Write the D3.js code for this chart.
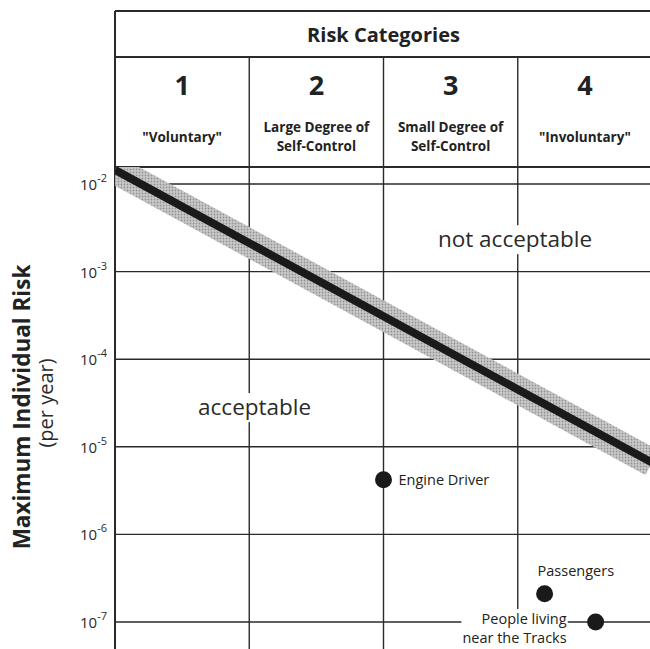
<!DOCTYPE html>
<html>
<head>
<meta charset="utf-8">
<script src="https://cdn.jsdelivr.net/npm/d3@7"></script>
<style>
  html, body { margin: 0; padding: 0; background: #fff; }
  svg { display: block; font-family: "Open Sans", sans-serif; }
</style>
</head>
<body>
<div id="chart"></div>
<script>
// Risk categories (columns)
const categories = ["1", "2", "3", "4"];
const categoryLabels = [
  ['"Voluntary"'],
  ["Large Degree of", "Self-Control"],
  ["Small Degree of", "Self-Control"],
  ['"Involuntary"']
];

// y ticks (per year)
const riskTicks = [1e-2, 1e-3, 1e-4, 1e-5, 1e-6, 1e-7];
const riskExponents = ["-2", "-3", "-4", "-5", "-6", "-7"];

// acceptability limit line
const limitX = [0, 4];
const limitRisk = [1.45e-2, 6.6e-6];

// individual points
const pointNames = ["Engine Driver", "Passengers", "People living|near the Tracks"];
const pointX = [2.0, 3.2, 3.58];
const pointRisk = [4.2e-6, 2.1e-7, 1.0e-7];

// zone labels
const zoneNames = ["not acceptable", "acceptable"];
const zoneX = [2.98, 1.04];
const zoneRisk = [1.9e-3, 2.3e-5];

const width = 650, height = 649;
const frame = { left: 115, right: 652, top: 11, row: 57, header: 167, bottom: 652 };

const svg = d3.select("#chart")
  .append("svg")
  .attr("width", width)
  .attr("height", height);

const x = d3.scaleLinear().domain([0, 4]).range([frame.left, frame.right]);
const y = d3.scaleLog().domain([1e-7, 1e-2]).range([622, 184]);

const ink = "#2a2a2a";

// halftone pattern for the grey band
const defs = svg.append("defs");
const pat = defs.append("pattern")
  .attr("id", "halftone")
  .attr("patternUnits", "userSpaceOnUse")
  .attr("width", 3).attr("height", 3);
pat.append("rect").attr("width", 3).attr("height", 3).attr("fill", "#cbcbcb");
pat.append("circle").attr("cx", 1.5).attr("cy", 1.5).attr("r", 0.9).attr("fill", "#929292");

defs.append("clipPath").attr("id", "plotClip")
  .append("rect")
  .attr("x", frame.left).attr("y", frame.header)
  .attr("width", frame.right - frame.left).attr("height", frame.bottom - frame.header);

// horizontal grid lines
svg.append("g")
  .selectAll("line")
  .data(riskTicks)
  .join("line")
  .attr("x1", frame.left).attr("x2", frame.right)
  .attr("y1", d => y(d)).attr("y2", d => y(d))
  .attr("stroke", ink).attr("stroke-width", 1.4);

// column dividers
svg.append("g")
  .selectAll("line")
  .data(d3.range(1, categories.length))
  .join("line")
  .attr("x1", d => x(d)).attr("x2", d => x(d))
  .attr("y1", frame.row).attr("y2", frame.bottom)
  .attr("stroke", ink).attr("stroke-width", 1.4);

// header frame lines
[frame.top, frame.row, frame.header].forEach(yy => {
  svg.append("line")
    .attr("x1", frame.left).attr("x2", frame.right)
    .attr("y1", yy).attr("y2", yy)
    .attr("stroke", ink).attr("stroke-width", 2);
});
svg.append("line")
  .attr("x1", frame.left).attr("x2", frame.left)
  .attr("y1", frame.top).attr("y2", frame.bottom)
  .attr("stroke", ink).attr("stroke-width", 2);

// limit band + line
const line = d3.line()
  .x(d => x(d[0]))
  .y(d => y(d[1]));
const limitData = limitX.map((d, i) => [d, limitRisk[i]]);

const plot = svg.append("g").attr("clip-path", "url(#plotClip)");
plot.append("path")
  .attr("d", line(limitData))
  .attr("fill", "none")
  .attr("stroke", "url(#halftone)")
  .attr("stroke-width", 28);
plot.append("path")
  .attr("d", line(limitData))
  .attr("fill", "none")
  .attr("stroke", "#1a1a1a")
  .attr("stroke-width", 8);

// zone labels with white backing
zoneNames.forEach((name, i) => {
  const g = svg.append("g");
  const t = g.append("text")
    .attr("x", x(zoneX[i]))
    .attr("y", y(zoneRisk[i]))
    .attr("text-anchor", "middle")
    .attr("font-size", 22.5)
    .attr("fill", "#2a2a2a")
    .text(name);
  const b = t.node().getBBox();
  g.insert("rect", "text")
    .attr("x", b.x - 3).attr("y", b.y + 2)
    .attr("width", b.width + 6).attr("height", b.height - 2)
    .attr("fill", "#fff");
});

// header text
svg.append("text")
  .attr("x", (frame.left + frame.right) / 2)
  .attr("y", 42)
  .attr("text-anchor", "middle")
  .attr("font-size", 20).attr("font-weight", "bold")
  .attr("fill", "#222")
  .text("Risk Categories");

svg.append("g")
  .selectAll("text")
  .data(categories)
  .join("text")
  .attr("x", (d, i) => x(i + 0.5))
  .attr("y", 95)
  .attr("text-anchor", "middle")
  .attr("font-size", 27).attr("font-weight", "bold")
  .attr("fill", "#222")
  .text(d => d);

categoryLabels.forEach((lines, i) => {
  const t = svg.append("text")
    .attr("text-anchor", "middle")
    .attr("font-size", 13.5).attr("font-weight", "bold")
    .attr("fill", "#222");
  const y0 = lines.length === 1 ? 142 : 132;
  lines.forEach((s, j) => {
    t.append("tspan")
      .attr("x", x(i + 0.5))
      .attr("y", y0 + j * 19)
      .text(s);
  });
});

// y tick labels
const tickG = svg.append("g")
  .selectAll("text")
  .data(riskTicks)
  .join("text")
  .attr("x", 107)
  .attr("y", d => y(d) + 6)
  .attr("text-anchor", "end")
  .attr("font-size", 15)
  .attr("fill", "#2a2a2a");
tickG.append("tspan").text("10");
tickG.append("tspan")
  .attr("dy", -8)
  .attr("font-size", 11)
  .text((d, i) => riskExponents[i]);

// y axis title
svg.append("text")
  .attr("transform", "translate(30,407) rotate(-90)")
  .attr("text-anchor", "middle")
  .attr("font-size", 22.5).attr("font-weight", "bold")
  .attr("fill", "#222")
  .text("Maximum Individual Risk");
svg.append("text")
  .attr("transform", "translate(53,403) rotate(-90)")
  .attr("text-anchor", "middle")
  .attr("font-size", 20)
  .attr("fill", "#2a2a2a")
  .text("(per year)");

// points + labels
const labelOffsets = [
  { dx: 15, dy: 5, anchor: "start" },
  { dx: -7, dy: -18, anchor: "start" },
  { dx: -29, dy: 2, anchor: "end" }
];

pointNames.forEach((name, i) => {
  const px = x(pointX[i]), py = y(pointRisk[i]);
  const off = labelOffsets[i];
  const g = svg.append("g");
  const t = g.append("text")
    .attr("text-anchor", off.anchor)
    .attr("font-size", 14.5)
    .attr("fill", "#222");
  const parts = name.split("|");
  parts.forEach((s, j) => {
    t.append("tspan")
      .attr("x", px + off.dx)
      .attr("y", py + off.dy + j * 19)
      .text(s);
  });
  if (parts.length > 1) {
    const b = t.node().getBBox();
    g.insert("rect", "text")
      .attr("x", b.x - 1).attr("y", b.y)
      .attr("width", b.width + 2).attr("height", b.height + 10)
      .attr("fill", "#fff");
  }
  svg.append("circle")
    .attr("cx", px).attr("cy", py)
    .attr("r", 8.5)
    .attr("fill", "#1a1a1a");
});
</script>
</body>
</html>
